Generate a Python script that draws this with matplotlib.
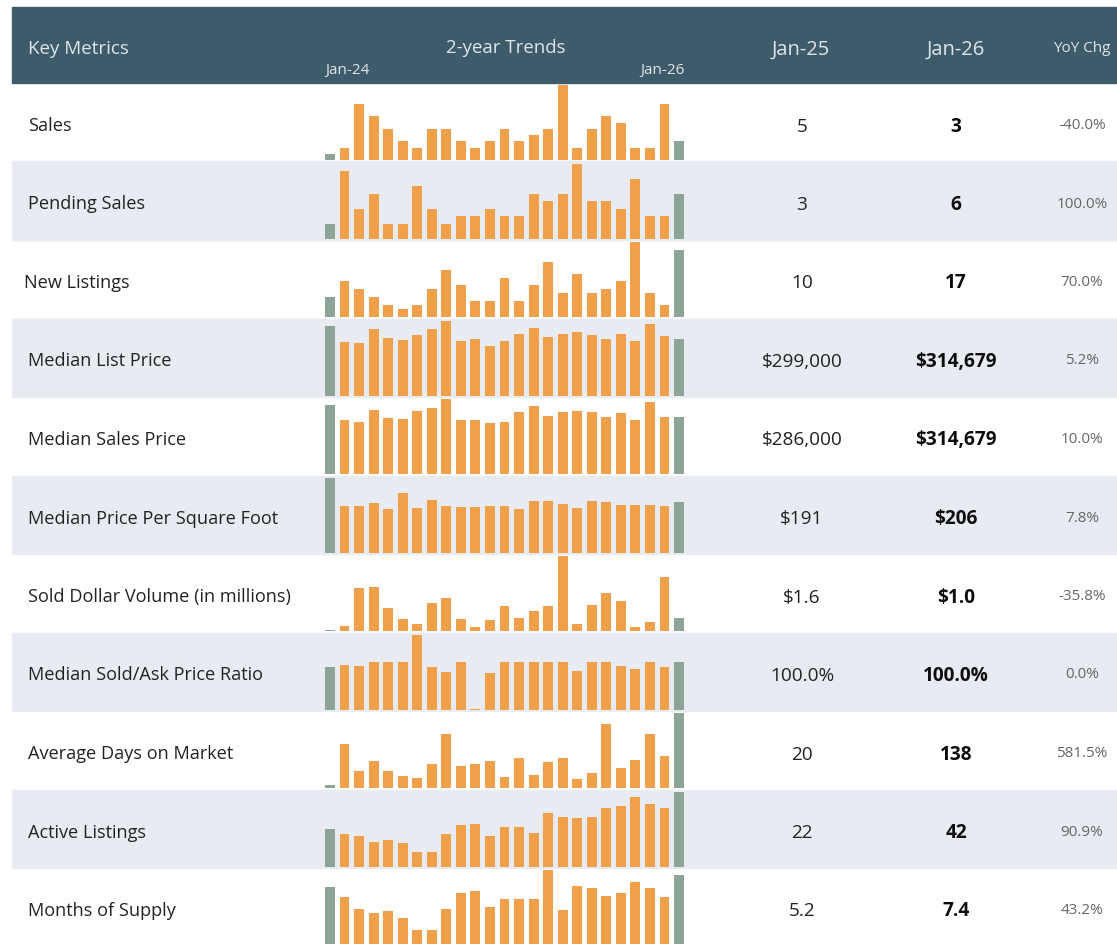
import numpy as np
import matplotlib.pyplot as plt
from matplotlib.patches import Rectangle

plt.rcParams['font.family'] = ['Open Sans', 'DejaVu Sans']

metrics = ['Sales', 'Pending Sales', 'New Listings', 'Median List Price',
           'Median Sales Price', 'Median Price Per Square Foot',
           'Sold Dollar Volume (in millions)', 'Median Sold/Ask Price Ratio',
           'Average Days on Market', 'Active Listings', 'Months of Supply']
jan25 = ['5', '3', '10', '$299,000', '$286,000', '$191', '$1.6', '100.0%', '20', '22', '5.2']
jan26 = ['3', '6', '17', '$314,679', '$314,679', '$206', '$1.0', '100.0%', '138', '42', '7.4']
yoy = ['-40.0%', '100.0%', '70.0%', '5.2%', '10.0%', '7.8%', '-35.8%', '0.0%',
       '581.5%', '90.9%', '43.2%']

# monthly values Jan-24 .. Jan-26 (25 months)
sales = [1, 2, 9, 7, 5, 3, 2, 5, 5, 3, 2, 3, 5, 3, 4, 5, 12, 2, 5, 7, 6, 2, 2, 9, 3]
pending = [2, 9, 4, 6, 2, 2, 7, 4, 2, 3, 3, 4, 3, 3, 6, 5, 6, 10, 5, 5, 4, 8, 3, 3, 6]
new_listings = [5, 9, 7, 5, 3, 2, 3, 7, 12, 8, 4, 4, 10, 4, 8, 14, 6, 11, 6, 7, 9, 19, 6, 3, 17]
list_price = [387, 298, 291, 367, 318, 306, 336, 367, 415, 304, 315, 273, 299,
              338, 373, 322, 340, 351, 336, 315, 338, 302, 397, 327, 314.679]
sales_price = [381, 296, 285, 354, 307, 305, 348, 363, 413, 296, 298, 280, 286,
               341, 372, 320, 339, 346, 339, 313, 335, 298, 396, 315, 314.679]
price_sqft = [305, 191, 188, 203, 175, 243, 183, 213, 188, 186, 186, 188, 191,
              175, 210, 209, 199, 183, 210, 207, 192, 192, 192, 190, 206]
volume = [0.40, 0.60, 2.52, 2.55, 1.52, 0.93, 0.68, 1.73, 2.02, 0.97, 0.57, 0.88, 1.6,
          1.02, 1.35, 1.6, 4.10, 0.68, 1.65, 2.23, 1.85, 0.57, 0.80, 3.07, 1.0]
ratio = [99.5, 99.7, 99.55, 100, 100, 100, 102.9, 99.5, 98.9, 100, 95.1, 98.8, 100,
         100, 100, 100, 100, 99.1, 100, 100, 99.55, 99.3, 100, 99.5, 100]
days = [6, 81, 32, 49, 32, 23, 19, 45, 100, 41, 44, 49, 20, 55, 24, 48, 56, 17, 28,
        117, 37, 52, 99, 58, 138]
active = [21, 18, 17, 14, 15, 13, 8, 8, 18, 23, 24, 17, 22, 22, 19, 30, 28, 27, 28,
          33, 34, 39, 35, 33, 42]
supply = [6.3, 5.4, 4.3, 3.9, 4.1, 3.5, 2.4, 2.4, 4.3, 5.8, 6.0, 4.5, 5.2, 5.2, 5.2,
          7.9, 4.2, 6.4, 6.2, 5.5, 5.8, 6.8, 6.2, 5.4, 7.4]

trends = [sales, pending, new_listings, list_price, sales_price, price_sqft,
          volume, ratio, days, active, supply]
# lower limit of each sparkline axis
trend_floor = [0, 0, 0, 0, 0, 0, 0.35, 95, 0, 0, 1.0]

W, H = 1117, 944
HEADER = '#3e5b6b'
SHADE = '#e8ecf2'
ORANGE = '#f0a04b'
GREY = '#8ca596'


def fx(x):
    return x / W


def fy(y):
    return 1 - y / H


def rect(fig, x0, y0, x1, y1, color):
    fig.patches.append(Rectangle((fx(x0), fy(y1)), (x1 - x0) / W, (y1 - y0) / H,
                                 transform=fig.transFigure, color=color, zorder=-5))


fig = plt.figure(figsize=(W / 100, H / 100), dpi=100)

# header band
rect(fig, 12, 7, W, 83, HEADER)
hdr = dict(color='#dfe6ea', va='baseline')
fig.text(fx(28), fy(54), 'Key Metrics', fontsize=13.5, ha='left', **hdr)
fig.text(fx(506), fy(53), '2-year Trends', fontsize=13.4, ha='center', **hdr)
fig.text(fx(325), fy(74), 'Jan-24', fontsize=11, ha='left', **hdr)
fig.text(fx(685), fy(74), 'Jan-26', fontsize=11, ha='right', **hdr)
fig.text(fx(801), fy(55), 'Jan-25', fontsize=14.5, ha='center', **hdr)
fig.text(fx(956), fy(55), 'Jan-26', fontsize=14.5, ha='center', **hdr)
fig.text(fx(1082), fy(52), 'YoY Chg', fontsize=11, ha='center', **hdr)

row_h = 78.5
n = len(trends[0])
for i, name in enumerate(metrics):
    top = 83 + i * row_h
    if i % 2 == 1:
        rect(fig, 12, top, W, top + row_h, SHADE)

    lx = 24 if name == 'New Listings' else 28
    fig.text(fx(lx), fy(top + 48), name, fontsize=13.1, color='#222222',
             ha='left', va='baseline')
    fig.text(fx(802), fy(top + 48.5), jan25[i], fontsize=13.7, color='#222222',
             ha='center', va='baseline')
    fig.text(fx(956), fy(top + 48.5), jan26[i], fontsize=13.7, color='#0d0d0d',
             fontweight='bold', ha='center', va='baseline')
    fig.text(fx(1082), fy(top + 46), yoy[i], fontsize=11, color='#666666',
             ha='center', va='baseline')

    # sparkline
    ax = fig.add_axes([fx(322.7), fy(top + 77), (686.3 - 322.7) / W, 75 / H])
    colors = [GREY] + [ORANGE] * (n - 2) + [GREY]
    ax.bar(np.arange(n), trends[i], width=0.68, color=colors)
    ax.set_xlim(-0.5, n - 0.5)
    ax.set_ylim(trend_floor[i], max(trends[i]))
    ax.axis('off')
    ax.patch.set_alpha(0)

fig.savefig('out.png', dpi=100)
